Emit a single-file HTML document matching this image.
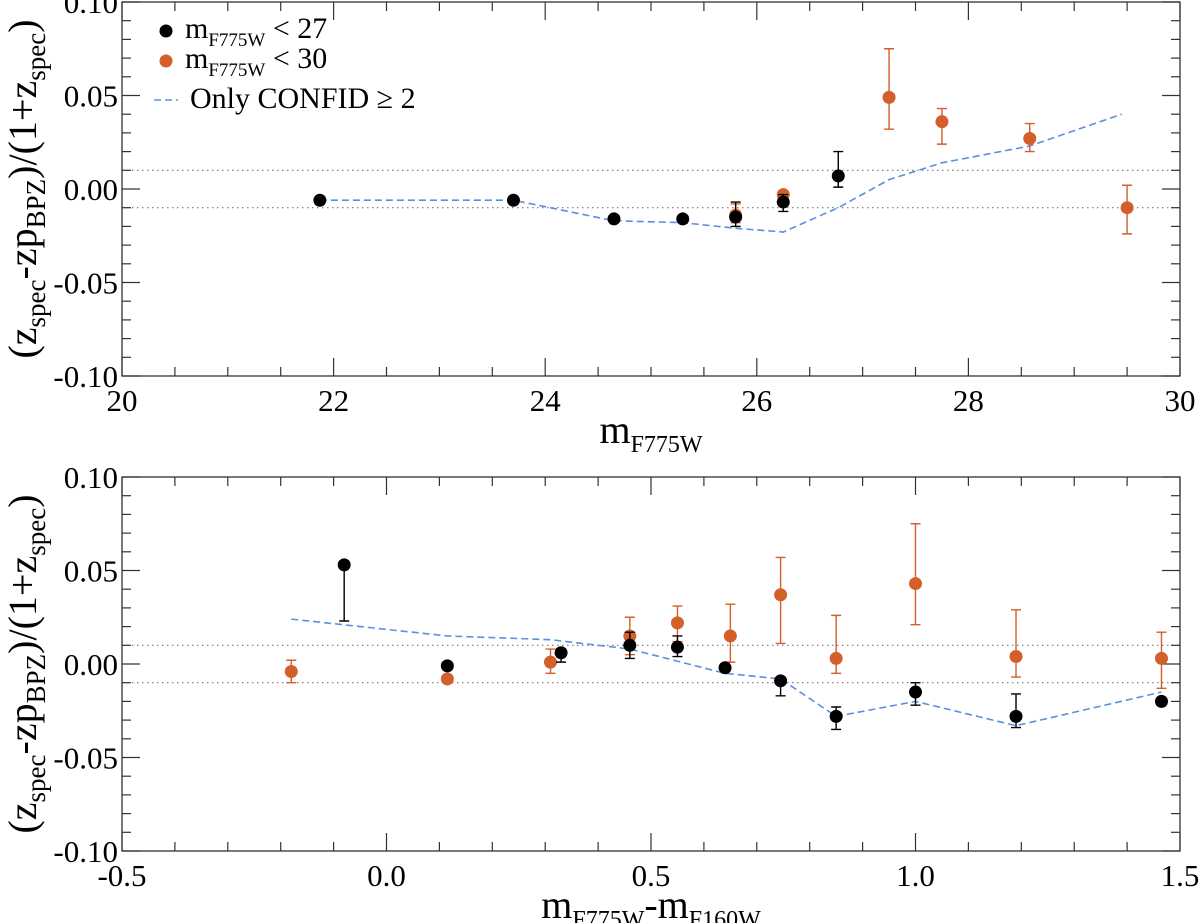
<!DOCTYPE html>
<html><head><meta charset="utf-8"><style>
html,body{margin:0;padding:0;background:#fff;}
svg{display:block;font-family:"Liberation Serif",serif;}
</style></head><body>
<svg id="fig" width="1200" height="923" viewBox="0 0 1200 923"></svg>
<script>
// ---- top panel data ----
const topBlackX=[21.87,23.7,24.65,25.3,25.8,26.25,26.77];
const topBlackY=[-0.006,-0.006,-0.016,-0.016,-0.015,-0.007,0.007];
const topBlackLo=[-0.006,-0.006,-0.016,-0.018,-0.020,-0.012,0.001];
const topBlackHi=[-0.006,-0.006,-0.016,-0.015,-0.007,-0.003,0.020];
const topOrX=[25.8,26.25,27.25,27.75,28.58,29.5];
const topOrY=[-0.014,-0.003,0.049,0.036,0.027,-0.010];
const topOrLo=[-0.018,-0.005,0.032,0.024,0.020,-0.024];
const topOrHi=[-0.008,-0.001,0.075,0.043,0.035,0.002];
const topDashX=[21.87,23.7,24.65,25.3,25.8,26.25,26.77,27.25,27.75,28.58,29.45];
const topDashY=[-0.006,-0.006,-0.017,-0.018,-0.021,-0.023,-0.010,0.005,0.014,0.023,0.040];
const topXTicks=[20,22,24,26,28,30];
// ---- bottom panel data ----
const botBlackX=[-0.08,0.115,0.33,0.46,0.55,0.64,0.745,0.85,1.0,1.19,1.465];
const botBlackY=[0.053,-0.001,0.006,0.010,0.009,-0.002,-0.009,-0.028,-0.015,-0.028,-0.020];
const botBlackLo=[0.023,-0.002,0.001,0.003,0.004,-0.003,-0.017,-0.035,-0.022,-0.034,-0.022];
const botBlackHi=[0.053,0.001,0.008,0.017,0.015,-0.001,-0.008,-0.023,-0.010,-0.016,-0.018];
const botOrX=[-0.18,0.115,0.31,0.46,0.55,0.65,0.745,0.85,1.0,1.19,1.465];
const botOrY=[-0.004,-0.008,0.001,0.015,0.022,0.015,0.037,0.003,0.043,0.004,0.003];
const botOrLo=[-0.010,-0.010,-0.005,0.005,0.012,0.001,0.011,-0.005,0.021,-0.007,-0.013];
const botOrHi=[0.002,-0.006,0.008,0.025,0.031,0.032,0.057,0.026,0.075,0.029,0.017];
const botDashX=[-0.18,0.115,0.31,0.46,0.64,0.745,0.85,1.0,1.19,1.465];
const botDashY=[0.024,0.015,0.013,0.008,-0.005,-0.008,-0.028,-0.020,-0.033,-0.015];
const botXTicks=[-0.5,0.0,0.5,1.0,1.5];
const yTicks=[-0.10,-0.05,0.00,0.05,0.10];

const NS="http://www.w3.org/2000/svg";
const svg=document.getElementById('fig');
function mk(tag,attrs,parent){const e=document.createElementNS(NS,tag);for(const k in attrs)e.setAttribute(k,attrs[k]);(parent||svg).appendChild(e);return e;}
const L=122,R=1180;
const ORANGE="#d35f2a", BLUE="#5b8fe0";

function panel(name,top,xmin,xmax,xTicks,xMinorStep,xFmt,bx,by,blo,bhi,ox,oy,olo,ohi,dx,dy,xlabelParts){
  const bottom=top+374;
  const g=mk('g',{});
  
  
  const sx=v=>L+(v-xmin)/(xmax-xmin)*(R-L);
  const sy=v=>top+(0.1-v)/0.2*(bottom-top);
  [0.01,-0.01].forEach(v=>{const l=mk('line',{x1:L,x2:R,y1:sy(v),y2:sy(v),stroke:'#777','stroke-width':1.2,'stroke-dasharray':'1.5,3.5'},g);
    
    });
  const fr=mk('rect',{x:L,y:top,width:R-L,height:bottom-top,fill:'none',stroke:'#333','stroke-width':1.3},g);
  
  
  for(let i=0;i<=20;i++){const v=-0.1+i*0.01;const len=(i%5===0)?18:9;const y=sy(v);
    mk('line',{x1:L,x2:L+len,y1:y,y2:y,stroke:'#333','stroke-width':1.2},g);
    mk('line',{x1:R,x2:R-len,y1:y,y2:y,stroke:'#333','stroke-width':1.2},g);}
  yTicks.forEach(v=>{const t=mk('text',{x:L-4,y:sy(v)+11,'text-anchor':'end','font-size':31},g);
    t.textContent=(v<0?'-':'')+Math.abs(v).toFixed(2);
    
    });
  const n=Math.round((xmax-xmin)/xMinorStep);
  for(let i=0;i<=n;i++){const v=xmin+i*xMinorStep;const major=xTicks.some(t=>Math.abs(t-v)<1e-9);const len=major?18:9;const x=sx(v);
    mk('line',{x1:x,x2:x,y1:bottom,y2:bottom-len,stroke:'#333','stroke-width':1.2},g);
    mk('line',{x1:x,x2:x,y1:top,y2:top+len,stroke:'#333','stroke-width':1.2},g);}
  xTicks.forEach(v=>{const t=mk('text',{x:sx(v),y:bottom+35,'text-anchor':'middle','font-size':31},g);
    t.textContent=xFmt(v);
    
    });
  const pl=mk('polyline',{points:dx.map((x,i)=>sx(x)+','+sy(dy[i])).join(' '),fill:'none',stroke:BLUE,'stroke-width':1.6,'stroke-dasharray':'7,4'},g);
  
  
  function series(xs,ys,lo,hi,col,nm){
    xs.forEach((x,i)=>{const X=sx(x);
      const eb=mk('path',{d:`M${X},${sy(lo[i])}V${sy(hi[i])}M${X-5},${sy(lo[i])}h10M${X-5},${sy(hi[i])}h10`,stroke:col,'stroke-width':1.4,fill:'none'},g);
      
      
      const c=mk('circle',{cx:X,cy:sy(ys[i]),r:6.5,fill:col},g);
      
      });
  }
  series(ox,oy,olo,ohi,ORANGE,'bright-orange');
  series(bx,by,blo,bhi,'#000','black');
  const yt=mk('text',{transform:`translate(36,${(top+bottom)/2}) rotate(-90)`,'text-anchor':'middle','font-size':40},g);
  yt.innerHTML='(z<tspan font-size="27" dy="9">spec</tspan><tspan dy="-9">-zp</tspan><tspan font-size="27" dy="9">BPZ</tspan><tspan dy="-9">)/(1+z</tspan><tspan font-size="27" dy="9">spec</tspan><tspan dy="-9">)</tspan>';
  
  
  const xt=mk('text',{x:(L+R)/2,y:bottom+67,'text-anchor':'middle','font-size':40},g);
  xt.innerHTML=xlabelParts;
  
  
}
panel('top-panel',2,20,30,topXTicks,0.5,v=>String(v),topBlackX,topBlackY,topBlackLo,topBlackHi,topOrX,topOrY,topOrLo,topOrHi,topDashX,topDashY,
  'm<tspan font-size="24" dy="9">F775W</tspan>');
panel('bottom-panel',477,-0.5,1.5,botXTicks,0.1,v=>v.toFixed(1),botBlackX,botBlackY,botBlackLo,botBlackHi,botOrX,botOrY,botOrLo,botOrHi,botDashX,botDashY,
  'm<tspan font-size="24" dy="9">F775W</tspan><tspan dy="-9">-m</tspan><tspan font-size="24" dy="9">F160W</tspan>');
const lg=mk('g',{});


const e1=mk('circle',{cx:166,cy:31,r:6.5,fill:'#000'},lg);


const t1=mk('text',{x:185,y:38,'font-size':30},lg);
t1.innerHTML='m<tspan font-size="19" dy="8">F775W</tspan><tspan dy="-8"> &lt; 27</tspan>';


const e2=mk('circle',{cx:166,cy:61,r:6.5,fill:ORANGE},lg);


const t2=mk('text',{x:185,y:68,'font-size':30},lg);
t2.innerHTML='m<tspan font-size="19" dy="8">F775W</tspan><tspan dy="-8"> &lt; 30</tspan>';


const e3=mk('line',{x1:154,x2:178,y1:100,y2:100,stroke:BLUE,'stroke-width':1.6,'stroke-dasharray':'7,4'},lg);


const t3=mk('text',{x:190,y:108,'font-size':30},lg);
t3.textContent='Only CONFID ≥ 2';


</script>
</body></html>
